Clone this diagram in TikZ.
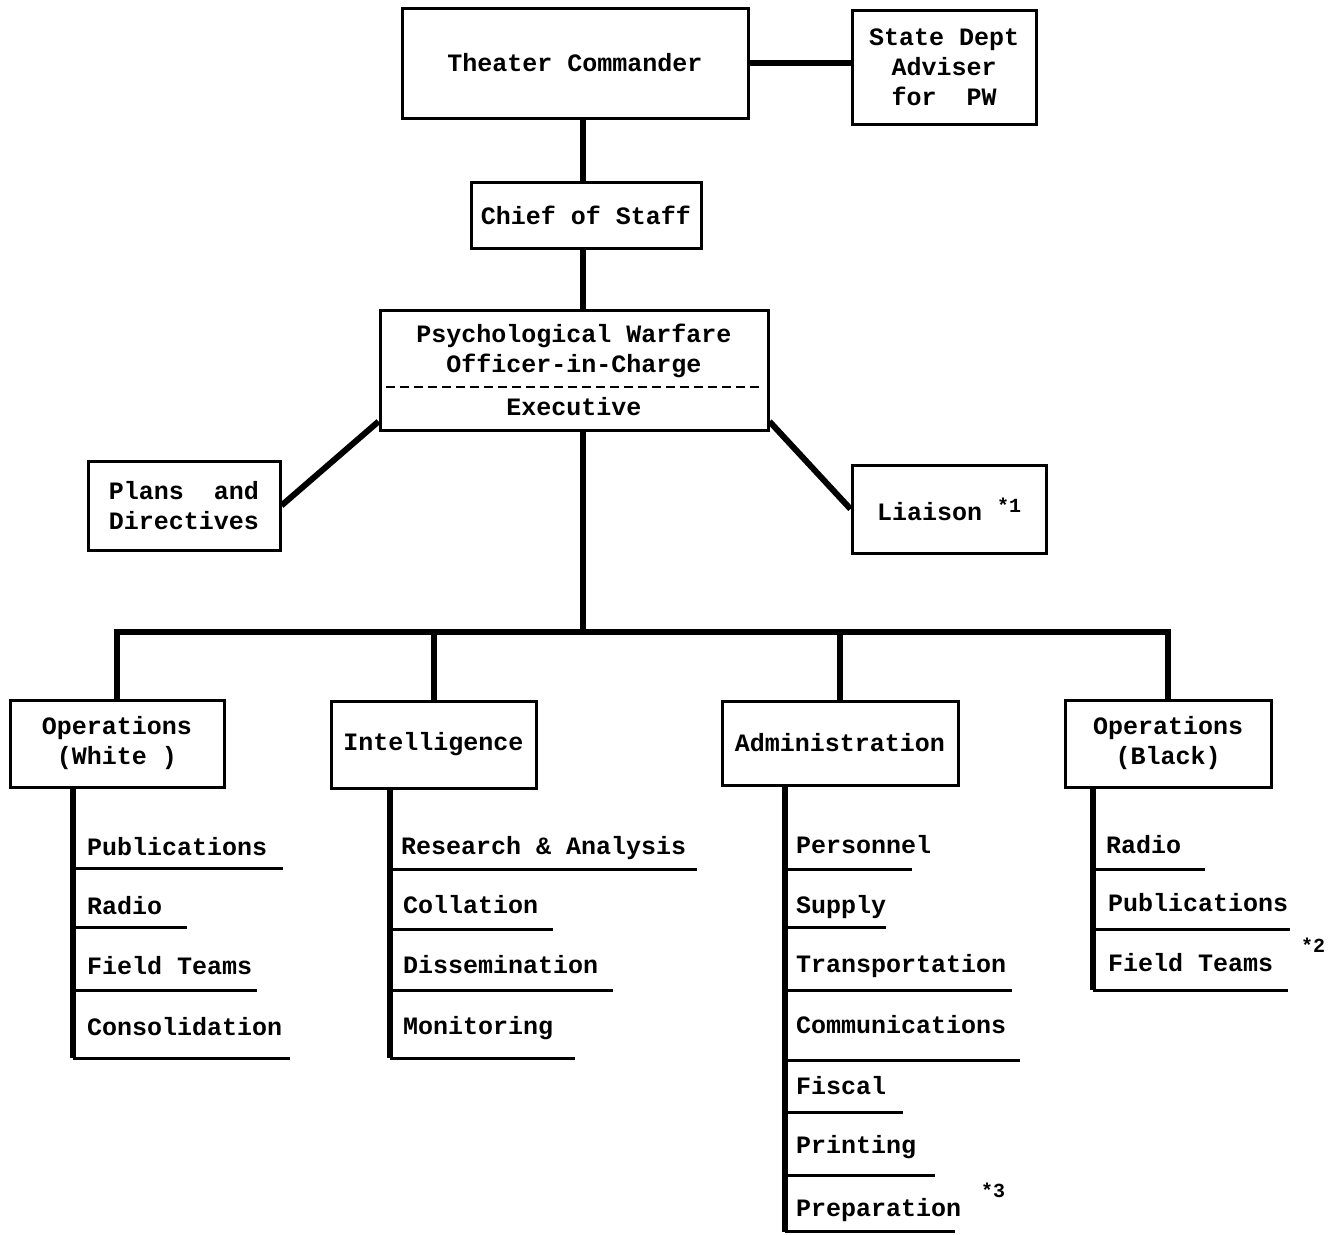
\documentclass[tikz,border=0pt]{standalone}
\usepackage{fontspec}
\newfontfamily\typer{Liberation Mono}
\tikzset{
  box/.style={draw, line width=3pt, inner sep=0pt, align=center},
  conn/.style={line width=6pt},
  uline/.style={line width=3pt},
  item/.style={anchor=base west, inner sep=0pt},
  note/.style={inner sep=0pt, font=\typer\bfseries\fontsize{20}{20}\selectfont},
}
\begin{document}
\begin{tikzpicture}[x=1pt,y=-1pt,font=\typer\bfseries\fontsize{25}{30}\selectfont]
       \useasboundingbox[fill=white] (0,0) rectangle (1332,1234);
       % top of the chain
       \node[box,minimum width=346,minimum height=110] (tc) at (575,63) {Theater Commander};
       \node[box,minimum width=184,minimum height=114] (sd) at (944,67) {State Dept\\Adviser\\for\ \ PW};
       \node[box,minimum width=230,minimum height=66] (cs) at (586,215) {Chief of Staff};
       \node[box,minimum width=388,minimum height=120] (pw) at (574,370) {Psychological Warfare\\Officer-in-Charge\\[13pt]Executive};
       \draw[line width=2.5pt,dash pattern=on 9pt off 5pt] (386,387) -- (762,387);
       \node[box,align=left,minimum width=192,minimum height=89] (pl) at (184,505.5) {Plans\ \ and\\Directives};
       \node[box,minimum width=194,minimum height=88] (li) at (949,509) {Liaison {\fontsize{20}{20}\selectfont\raisebox{8pt}{*1}}};
       \coordinate (spine) at (583,0);
       \draw[conn] (tc.east) -- (tc.east -| sd.west);
       \draw[conn] (tc.south -| spine) -- (cs.north -| spine);
       \draw[conn] (cs.south -| spine) -- (pw.north -| spine);
       \draw[conn] ([yshift=10pt]pw.south west) -- (pl.east);
       \draw[conn] ([yshift=10pt]pw.south east) -- (li.west);
       % the four branches
       \node[box,minimum width=214,minimum height=87] (opwhite) at (117,743.5) {Operations\\(White )};
       \node[box,minimum width=205,minimum height=87] (intel) at (433.5,744.5) {Intelligence};
       \node[box,minimum width=236,minimum height=84] (admin) at (840,743) {Administration};
       \node[box,minimum width=206,minimum height=87] (opblack) at (1168,743.5) {Operations\\ (Black)};
       \coordinate (bus) at (583,632);
       \draw[conn] (pw.south -| spine) -- (bus);
       \draw[conn] (opwhite.north) |- (bus) -| (opblack.north);
       \draw[conn] (intel.north) -- (intel.north |- bus);
       \draw[conn] (admin.north) -- (admin.north |- bus);
       % Operations (White)
       \draw[conn] (opwhite.south -| 73,0) -- (73,1058);
       \draw[uline] (73,1058) -- (290,1058);
       \node[item] (w1) at (87,855) {Publications};   \draw[uline] (73,868) -- (283,868);
       \node[item] (w2) at (87,914) {Radio};          \draw[uline] (73,927) -- (187,927);
       \node[item] (w3) at (87,974) {Field Teams};    \draw[uline] (73,990) -- (257,990);
       \node[item] (w4) at (87,1035) {Consolidation};
       % Intelligence
       \draw[conn] (intel.south -| 390,0) -- (390,1058);
       \draw[uline] (390,1058) -- (575,1058);
       \node[item] (i1) at (401,854) {Research \& Analysis}; \draw[uline] (390,869) -- (697,869);
       \node[item] (i2) at (403,913) {Collation};      \draw[uline] (390,929) -- (553,929);
       \node[item] (i3) at (403,973) {Dissemination};  \draw[uline] (390,990) -- (613,990);
       \node[item] (i4) at (403,1034) {Monitoring};
       % Administration
       \draw[conn] (admin.south -| 785,0) -- (785,1232);
       \draw[uline] (785,1231) -- (955,1231);
       \node[item] (a1) at (796,853) {Personnel};      \draw[uline] (785,869) -- (912,869);
       \node[item] (a2) at (796,913) {Supply};         \draw[uline] (785,927) -- (886,927);
       \node[item] (a3) at (796,972) {Transportation}; \draw[uline] (785,990) -- (1012,990);
       \node[item] (a4) at (796,1033) {Communications}; \draw[uline] (785,1060) -- (1020,1060);
       \node[item] (a5) at (796,1094) {Fiscal};        \draw[uline] (785,1112) -- (903,1112);
       \node[item] (a6) at (796,1153) {Printing};      \draw[uline] (785,1175) -- (935,1175);
       \node[item] (a7) at (796,1216) {Preparation};
       \node[note] (n3) at (993,1190) {*3};
       % Operations (Black)
       \draw[conn] (opblack.south -| 1093,0) -- (1093,990);
       \draw[uline] (1093,990) -- (1288,990);
       \node[item] (b1) at (1106,853) {Radio};         \draw[uline] (1093,869) -- (1205,869);
       \node[item] (b2) at (1108,911) {Publications};  \draw[uline] (1093,929) -- (1290,929);
       \node[item] (b3) at (1108,971) {Field Teams};
       \node[note] (n2) at (1313,945) {*2};
     \end{tikzpicture}
\end{document}
